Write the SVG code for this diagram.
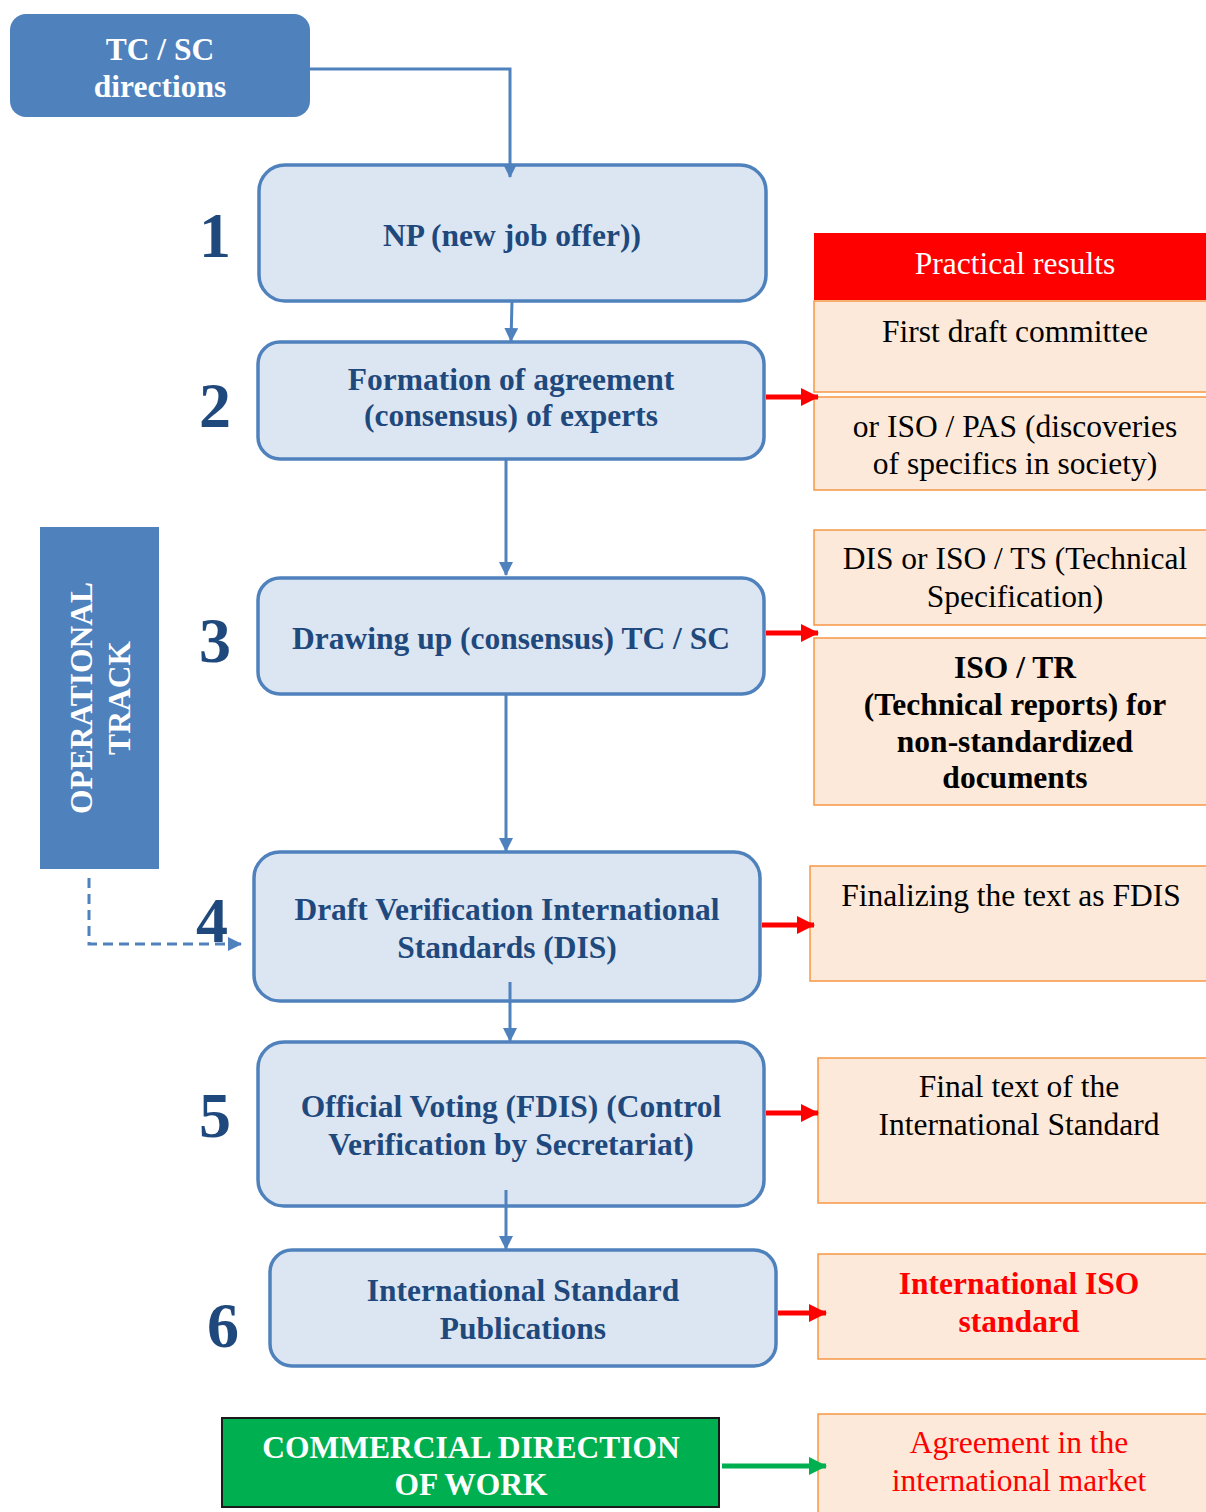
<svg xmlns="http://www.w3.org/2000/svg" width="1206" height="1512" viewBox="0 0 1206 1512">
<style>
text{font-family:"Liberation Serif","Times New Roman",serif;text-anchor:middle}
.step{fill:#DCE6F2;stroke:#4F81BD;stroke-width:3.5}
.stxt{fill:#1F497D;font-weight:bold;font-size:31.5px}
.num{fill:#1F497D;font-weight:bold;font-size:64px}
.res{fill:#FDE9D9;stroke:#F79646;stroke-width:1.5}
.rtxt{fill:#000;font-size:31.5px}
.rred{fill:#FF0000}
.bold{font-weight:bold}
.wb{fill:#fff;font-weight:bold;font-size:31.5px}
.blue{stroke:#4F81BD;stroke-width:3;fill:none}
.red{stroke:#FF0000;stroke-width:5;fill:none}
.green{stroke:#00B050;stroke-width:5;fill:none}
</style>
<defs>
<marker id="ab" markerUnits="userSpaceOnUse" markerWidth="14" markerHeight="14" refX="13" refY="7" orient="auto"><path d="M0,0 L14,7 L0,14 Z" fill="#4F81BD"/></marker>
<marker id="ar" markerUnits="userSpaceOnUse" markerWidth="18" markerHeight="18" refX="17" refY="9" orient="auto"><path d="M0,0 L18,9 L0,18 Z" fill="#FF0000"/></marker>
<marker id="ag" markerUnits="userSpaceOnUse" markerWidth="18" markerHeight="18" refX="17" refY="9" orient="auto"><path d="M0,0 L18,9 L0,18 Z" fill="#00B050"/></marker>
</defs>

<g id="tcsc">
<rect x="10" y="14" width="300" height="103" rx="16" fill="#4F81BD"/>
<text class="wb" x="160" y="60">TC / SC</text>
<text class="wb" x="160" y="97">directions</text>
</g>

<g id="operational">
<rect x="40" y="527" width="119" height="342" fill="#4F81BD"/>
<text class="wb" transform="translate(92,698) rotate(-90)">OPERATIONAL</text>
<text class="wb" transform="translate(130,698) rotate(-90)">TRACK</text>
</g>

<g id="step1">
<rect class="step" x="259" y="165" width="507" height="136" rx="26"/>
<text class="num" x="215" y="257">1</text>
<text class="stxt" x="512" y="246">NP (new job offer))</text>
</g>

<g id="step2">
<rect class="step" x="258" y="342" width="506" height="117" rx="22"/>
<text class="num" x="215" y="427">2</text>
<text class="stxt" x="511" y="390">Formation of agreement</text>
<text class="stxt" x="511" y="426">(consensus) of experts</text>
</g>

<g id="step3">
<rect class="step" x="258" y="578" width="506" height="116" rx="22"/>
<text class="num" x="215" y="662">3</text>
<text class="stxt" x="511" y="649">Drawing up (consensus) TC / SC</text>
</g>

<g id="step4">
<rect class="step" x="254" y="852" width="506" height="149" rx="26"/>
<text class="num" x="212" y="942">4</text>
<text class="stxt" x="507" y="920">Draft Verification International</text>
<text class="stxt" x="507" y="958">Standards (DIS)</text>
</g>

<g id="step5">
<rect class="step" x="258" y="1042" width="506" height="164" rx="26"/>
<text class="num" x="215" y="1137">5</text>
<text class="stxt" x="511" y="1117">Official Voting (FDIS) (Control</text>
<text class="stxt" x="511" y="1155">Verification by Secretariat)</text>
</g>

<g id="step6">
<rect class="step" x="270" y="1250" width="506" height="116" rx="22"/>
<text class="num" x="223" y="1347">6</text>
<text class="stxt" x="523" y="1301">International Standard</text>
<text class="stxt" x="523" y="1339">Publications</text>
</g>

<g id="commercial">
<rect x="222" y="1418" width="497" height="89" fill="#00B050" stroke="#1a1a1a" stroke-width="2"/>
<text class="wb" x="471" y="1458">COMMERCIAL DIRECTION</text>
<text class="wb" x="471" y="1495">OF WORK</text>
</g>

<g id="header">
<rect x="814" y="233" width="392" height="67" fill="#FF0000"/>
<text x="1015" y="274" font-size="31.5" fill="#fff">Practical results</text>
</g>

<g id="res1">
<rect class="res" x="814" y="301" width="394" height="91"/>
<text class="rtxt" x="1015" y="342">First draft committee</text>
</g>

<g id="res2">
<rect class="res" x="814" y="397" width="394" height="93"/>
<text class="rtxt" x="1015" y="437">or ISO / PAS (discoveries</text>
<text class="rtxt" x="1015" y="474">of specifics in society)</text>
</g>

<g id="res3">
<rect class="res" x="814" y="530" width="394" height="95"/>
<text class="rtxt" x="1015" y="569">DIS or ISO / TS (Technical</text>
<text class="rtxt" x="1015" y="607">Specification)</text>
</g>

<g id="res4">
<rect class="res" x="814" y="638" width="394" height="167"/>
<text class="rtxt bold" x="1015" y="678">ISO / TR</text>
<text class="rtxt bold" x="1015" y="715">(Technical reports) for</text>
<text class="rtxt bold" x="1015" y="752">non-standardized</text>
<text class="rtxt bold" x="1015" y="788">documents</text>
</g>

<g id="res5">
<rect class="res" x="810" y="866" width="398" height="115"/>
<text class="rtxt" x="1011" y="906">Finalizing the text as FDIS</text>
</g>

<g id="res6">
<rect class="res" x="818" y="1058" width="390" height="145"/>
<text class="rtxt" x="1019" y="1097">Final text of the</text>
<text class="rtxt" x="1019" y="1135">International Standard</text>
</g>

<g id="res7">
<rect class="res" x="818" y="1254" width="390" height="105"/>
<text class="rtxt bold rred" x="1019" y="1294">International ISO</text>
<text class="rtxt bold rred" x="1019" y="1332">standard</text>
</g>

<g id="res8">
<rect class="res" x="818" y="1414" width="390" height="102"/>
<text class="rtxt rred" x="1019" y="1453">Agreement in the</text>
<text class="rtxt rred" x="1019" y="1491">international market</text>
</g>

<g id="connectors">
<path class="blue" d="M310,69 H510 V177" marker-end="url(#ab)"/>
<path class="blue" d="M512,301 L511,341" marker-end="url(#ab)"/>
<path class="blue" d="M506,459 V575" marker-end="url(#ab)"/>
<path class="blue" d="M506,694 V851" marker-end="url(#ab)"/>
<path class="blue" d="M510,982 V1041" marker-end="url(#ab)"/>
<path class="blue" d="M506,1190 V1249" marker-end="url(#ab)"/>
<path class="blue" d="M89,878 V944 H241" stroke-dasharray="10,6" marker-end="url(#ab)"/>
<path class="red" d="M766,397 H818" marker-end="url(#ar)"/>
<path class="red" d="M766,633 H818" marker-end="url(#ar)"/>
<path class="red" d="M762,925 H814" marker-end="url(#ar)"/>
<path class="red" d="M766,1113 H818" marker-end="url(#ar)"/>
<path class="red" d="M778,1313 H826" marker-end="url(#ar)"/>
<path class="green" d="M722,1466 H826" marker-end="url(#ag)"/>
</g>
</svg>
